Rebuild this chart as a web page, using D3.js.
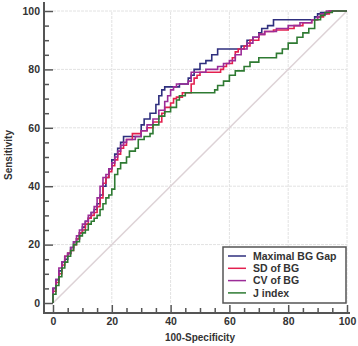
<!DOCTYPE html>
<html>
<head>
<meta charset="utf-8" />
<title>ROC curves</title>
<style>
html, body {
    margin: 0px;
    padding: 0px;
    background: #fff;
}
svg text {
    font-family: "Liberation Sans", Arial, sans-serif;
    font-weight: bold;
    fill: #333;
}
.grid line {
    stroke: #e2e2e2;
    stroke-dasharray: 3 1;
}
</style>
</head>
<body>
<div id="chart"></div>
<script src="https://d3js.org/d3.v7.min.js"></script>
<script>
!(function(){
    "use strict"

    // series names, in legend order
    var seriesNames = ["Maximal BG Gap", "SD of BG", "CV of BG", "J index"]
    var seriesColors = ["#2f2f7e", "#e3204f", "#9c2c98", "#2e7a32"]

    // ROC points [100-specificity, sensitivity]
    var maxGap = [[0,0],[0,3],[1,5],[2,8],[3,11],[4,14],[5,15],[6,17],[7,19],[8,21],[9,22],[10,24],[11,26],[12,28],[13,29],[14,31],[15,32],[16,34],[17,37],[18,40],[19,43],[20,46],[21,49],[22,51],[23,53],[24,55],[26,57],[30,57],[31,61],[33,63],[35,65],[36,68],[37,71],[38,73],[40,74],[43,74],[44,75],[46,75],[47,77],[48,78],[50,80],[52,82],[54,83],[56,85],[58,87],[64,87],[66,88],[68,90],[70,91],[71,92.5],[73,94],[75,95],[77,97],[89,97],[90,98],[91,99],[94,99.5],[96,100],[100,100]]

    var sdBG = [[0,0],[0,2],[1,4],[2,7],[3,10],[4,13],[5,16],[6,17],[7,18],[8,20],[9,22],[10,24],[11,25],[12,27],[13,29],[14,30],[15,31],[16,33],[17,36],[18,41],[19,43],[20,45],[21,47],[22,49],[23,51],[24,53],[25,54],[27,56],[30,58],[32,59],[34,60],[37,62],[38,65],[40,67],[41,68.5],[42,70],[44,70.5],[47,72],[48,75],[49,77],[50,78],[52,79],[57,79],[58,80],[59,81],[61,82],[62,84],[63,86],[65,87],[67,88],[70,90],[72,92],[75,93],[80,93.5],[82,94],[85,95],[88,96],[90,97],[92,98],[94,99],[96,100],[100,100]]

    var cvBG = [[0,0],[0,3],[1,5],[2,8],[3,12],[4,14],[5,16],[6,17],[7,19],[8,21],[9,23],[10,25],[11,27],[12,28],[13,30],[14,31],[15,33],[16,36],[17,40],[18,43],[19,44],[20,46],[21,48],[22,50],[23,52],[24,54],[25,55],[28,56],[30,57],[32,59],[34,61],[36,63],[38,66],[39,69],[40,71],[41,73],[42,74],[46,75],[47,76],[49,79],[52,79],[56,80],[58,81],[60,82],[62,83],[64,85],[66,87],[68,89],[70,91],[72,92],[76,93],[80,94],[84,95],[88,96],[90,97],[91,98],[93,99],[95,100],[100,100]]

    var jIndex = [[0,0],[0,2],[1,3],[2,6],[3,9],[4,12],[5,14],[6,16],[7,18],[8,20],[9,21],[10,23],[11,24],[12,25],[13,27],[14,28],[15,29],[16,30],[17,32],[18,34],[19,36],[20,37],[21,39],[22,44],[23,46],[25,48],[26,50],[28,52],[29,53],[31,56],[33,57],[34,58],[36,61],[38,64],[40,65.5],[42,67],[43,69.5],[45,71],[47,72],[55,72],[56,73],[58,74.5],[60,76],[62,78],[65,79.5],[67,81],[70,82.5],[72,84],[76,84],[78,85.5],[80,87],[83,89],[85,91],[87,92.5],[89,94],[91,97],[92.5,98.5],[95,99.5],[99,100],[100,100]]

    var series = [maxGap, sdBG, cvBG, jIndex]

    var majorTicks = [0, 20, 40, 60, 80, 100]
    var minorTicks = d3.range(0, 101, 5).filter(function(v){ return v % 20 !== 0 })

    var width = 358, height = 346

    var svg = d3.select("#chart").append("svg")
        .attr("width", width)
        .attr("height", height)

    var x = d3.scaleLinear().domain([0, 100]).range([53, 347])
    var y = d3.scaleLinear().domain([0, 100]).range([303, 11])

    var axisX = 44, axisY = 313

    // grid
    var grid = svg.append("g").attr("class", "grid")
    grid.selectAll("line.h")
        .data(majorTicks.slice(1))
        .enter().append("line")
        .attr("x1", x(0)).attr("x2", x(100))
        .attr("y1", function(d){ return y(d) })
        .attr("y2", function(d){ return y(d) })
    grid.selectAll("line.v")
        .data(majorTicks.slice(1))
        .enter().append("line")
        .attr("y1", y(0)).attr("y2", y(100))
        .attr("x1", function(d){ return x(d) })
        .attr("x2", function(d){ return x(d) })

    // reference diagonal
    svg.append("line")
        .attr("x1", x(0)).attr("y1", y(0))
        .attr("x2", x(100)).attr("y2", y(100))
        .attr("stroke", "#ddd2d6")
        .attr("stroke-width", 1.5)

    // ROC curves
    var line = d3.line()
        .x(function(d){ return x(d[0]) })
        .y(function(d){ return y(d[1]) })
        .curve(d3.curveStepBefore)

    svg.append("g").selectAll("path")
        .data(series)
        .enter().append("path")
        .attr("d", line)
        .attr("fill", "none")
        .attr("stroke", function(d, i){ return seriesColors[i] })
        .attr("stroke-width", 1.6)

    // axes
    var yAxis = d3.axisLeft(y).tickValues(majorTicks).tickSize(-9).tickPadding(4)
    var yMinor = d3.axisLeft(y).tickValues(minorTicks).tickSize(-5).tickFormat("")
    var xAxis = d3.axisBottom(x).tickValues(majorTicks).tickSize(-8).tickPadding(5)
    var xMinor = d3.axisBottom(x).tickValues(minorTicks).tickSize(-5).tickFormat("")

    function styleAxis(g) {
        g.select(".domain").remove()
        g.selectAll(".tick line").attr("stroke", "#555").attr("stroke-width", 1.5)
        g.selectAll(".tick text").attr("font-size", 10.5).attr("fill", "#333")
            .attr("font-family", null)
    }

    svg.append("g").attr("transform", "translate(" + axisX + ",0)").call(yAxis).call(styleAxis)
    svg.append("g").attr("transform", "translate(" + axisX + ",0)").call(yMinor).call(styleAxis)
    svg.append("g").attr("transform", "translate(0," + axisY + ")").call(xAxis).call(styleAxis)
    svg.append("g").attr("transform", "translate(0," + axisY + ")").call(xMinor).call(styleAxis)

    svg.append("path")
        .attr("d", "M" + axisX + ",2V" + axisY + "H350")
        .attr("fill", "none")
        .attr("stroke", "#555")
        .attr("stroke-width", 2)

    // axis titles
    svg.append("text")
        .attr("x", x(50))
        .attr("y", 341)
        .attr("text-anchor", "middle")
        .attr("font-size", 10)
        .text("100-Specificity")

    svg.append("text")
        .attr("transform", "translate(12," + 155 + ") rotate(-90)")
        .attr("text-anchor", "middle")
        .attr("font-size", 10)
        .text("Sensitivity")

    // legend
    var legend = svg.append("g").attr("transform", "translate(223,247)")
    legend.append("rect")
        .attr("width", 123).attr("height", 56)
        .attr("fill", "#fff")
        .attr("stroke", "#555")
        .attr("stroke-width", 1.5)

    var items = legend.selectAll("g.item")
        .data(seriesNames)
        .enter().append("g")
        .attr("transform", function(d, i){ return "translate(0," + (9 + i * 12.3) + ")" })
    items.append("line")
        .attr("x1", 5).attr("x2", 23)
        .attr("stroke", function(d, i){ return seriesColors[i] })
        .attr("stroke-width", 1.5)
    items.append("text")
        .attr("x", 30)
        .attr("dy", "0.35em")
        .attr("font-size", 10.5)
        .text(function(d){ return d })

}());
</script>
</body>
</html>
